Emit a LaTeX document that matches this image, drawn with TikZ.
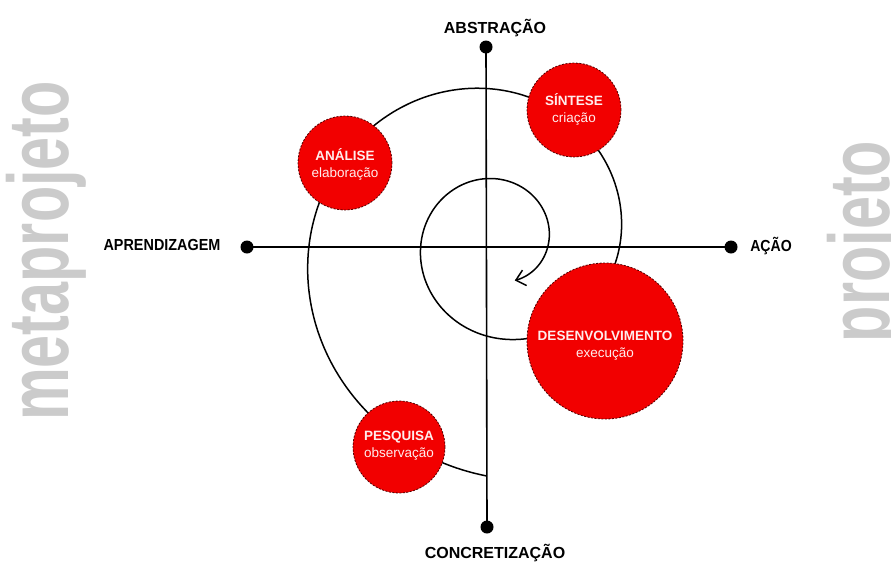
\documentclass[tikz,border=0pt]{standalone}
\usepackage{fontspec}
\setmainfont{Liberation Sans}
\usetikzlibrary{arrows.meta}
\definecolor{phred}{RGB}{242,0,0}
\definecolor{phborder}{RGB}{80,0,0}
\definecolor{sidegray}{RGB}{203,203,203}
\definecolor{phtext}{RGB}{255,236,236}
\begin{document}
\begin{tikzpicture}[x=1pt,y=-1pt,
  axisdot/.style={circle,fill=black,inner sep=0pt,minimum size=13pt},
  axislabel/.style={font=\fontsize{16}{18}\selectfont\bfseries,anchor=base,inner sep=0pt},
  phase/.style={circle,fill=phred,draw=phborder,dash pattern=on 2pt off 1.5pt,line width=0.8pt,inner sep=0pt},
  phasetext/.style={align=center,text=phtext,font=\fontsize{13.5}{17}\selectfont,inner sep=0pt},
  sidetext/.style={text=sidegray,font=\fontsize{86}{90}\selectfont\bfseries,rotate=90,anchor=base,inner sep=0pt},
  axisline/.style={line width=1.6pt},
  spiral/.style={line width=1.5pt}]
\useasboundingbox (0,0) rectangle (891,563);
\fill[white] (0,0) rectangle (891,563);

% side words
\node[sidetext] (meta) at (68,251) {\scalebox{0.69}[1]{metaprojeto}};
\node[sidetext] (proj) at (889,241.5) {\scalebox{0.69}[1]{projeto}};

% axes
\node[axisdot] (top) at (486,47) {};
\node[axisdot] (bot) at (487,527) {};
\node[axisdot] (lft) at (247,247) {};
\node[axisdot] (rgt) at (731,247) {};
\draw[axisline] (top.center) -- (bot.center);
\draw[axisline] (lft.center) -- (rgt.center);

\node[axislabel] (abs) at (495,33.5) {ABSTRAÇÃO};
\node[axislabel] (con) at (495,558.5) {CONCRETIZAÇÃO};
\node[axislabel] (apr) at (162,250) {\scalebox{0.9}[1]{APRENDIZAGEM}};
\node[axislabel] (aca) at (771,251.5) {\scalebox{0.88}[1]{AÇÃO}};

% spiral (logarithmic, ratio 0.8 per quarter turn)
\draw[spiral,-{Straight Barb[length=9pt,width=16pt]}]
  plot[domain=3:698,samples=360,variable=\t,smooth]
  ({499 - 236.6*exp(-0.0024794*\t)*sin(\t)},{241.4 + 236.6*exp(-0.0024794*\t)*cos(\t)});

% phases
\node[phase,minimum size=94pt] (ana) at (345,163) {};
\node[phase,minimum size=94pt] (sin) at (574,110) {};
\node[phase,minimum size=156pt] (des) at (605,341) {};
\node[phase,minimum size=92pt] (pes) at (399,447) {};

\node[phasetext] (ana-t) at (345,164.5) {\textbf{ANÁLISE}\\elaboração};
\node[phasetext] (sin-t) at (574,109.5) {\textbf{SÍNTESE}\\criação};
\node[phasetext] (des-t) at (605,346) {\textbf{DESENVOLVIMENTO}\\execução};
\node[phasetext] (pes-t) at (399,446) {\textbf{PESQUISA}\\observação};
\end{tikzpicture}
\end{document}
